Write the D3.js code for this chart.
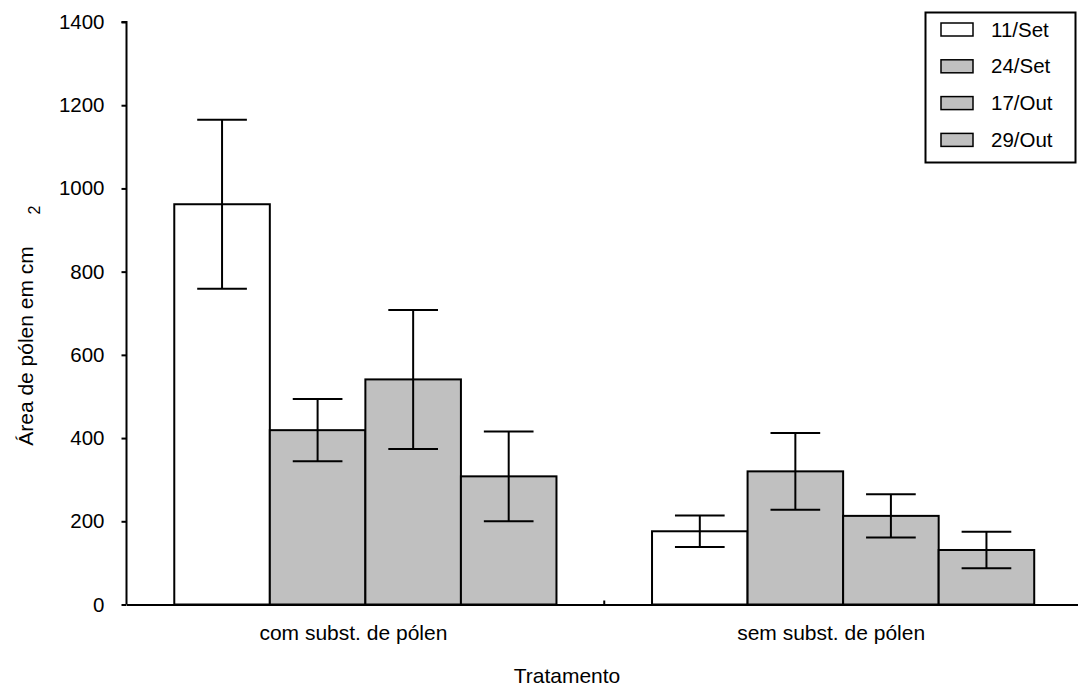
<!DOCTYPE html>
<html>
<head>
<meta charset="utf-8">
<script src="https://cdn.jsdelivr.net/npm/d3@7"></script>
<style>
  body { margin: 0; background: #fff; }
  text { font-family: "Liberation Sans", Arial, sans-serif; fill: #000; }
</style>
</head>
<body>
<svg width="1078" height="686"></svg>
<script>
// Área de pólen por tratamento e data

var categories = ["com subst. de pólen", "sem subst. de pólen"];
var series = ["11/Set", "24/Set", "17/Out", "29/Out"];
var meanCom = [962, 419, 541, 308];
var meanSem = [176, 320, 213, 131];
var seCom = [203, 75, 167, 108];
var seSem = [38, 92, 52, 44];
var yTicks = [0, 200, 400, 600, 800, 1000, 1200, 1400];
var fills = ["#ffffff", "#c0c0c0", "#c0c0c0", "#c0c0c0"];

var svg = d3.select("svg"),
    width = +svg.attr("width"),
    height = +svg.attr("height");

var mLeft = 126.5, mRight = 1082, mTop = 22, mBottom = 604.5;

var data = categories.map(function(c, i) {
  var m = i == 0 ? meanCom : meanSem,
      s = i == 0 ? seCom : seSem;
  return { cat: c, vals: series.map(function(k, j) { return { key: k, mean: m[j], se: s[j] }; }) };
});

var y = d3.scaleLinear().domain([0, 1400]).range([mBottom, mTop]);

var x0 = d3.scaleBand().domain(categories).range([mLeft, mRight]).padding(0);

var x1 = d3.scaleBand().domain(series)
    .range([x0.bandwidth() * 0.1, x0.bandwidth() * 0.9]).padding(0);

var color = d3.scaleOrdinal(series, fills);

// barras
var grp = svg.selectAll(".grp")
  .data(data)
  .enter().append("g")
    .attr("class", "grp")
    .attr("transform", function(d) { return "translate(" + x0(d.cat) + ",0)"; });

grp.selectAll("rect")
  .data(function(d) { return d.vals; })
  .enter().append("rect")
    .attr("x", function(d) { return x1(d.key); })
    .attr("y", function(d) { return y(d.mean); })
    .attr("width", x1.bandwidth())
    .attr("height", function(d) { return y(0) - y(d.mean); })
    .attr("fill", function(d) { return color(d.key); })
    .attr("stroke", "#000")
    .attr("stroke-width", 2);

// barras de erro
var err = grp.selectAll(".err")
  .data(function(d) { return d.vals; })
  .enter().append("g")
    .attr("class", "err")
    .attr("stroke", "#000")
    .attr("stroke-width", 2);

var cx = function(d) { return x1(d.key) + x1.bandwidth() / 2; };
var cap = x1.bandwidth() * 0.26;

err.append("line")
    .attr("x1", cx).attr("x2", cx)
    .attr("y1", function(d) { return y(d.mean + d.se); })
    .attr("y2", function(d) { return y(d.mean - d.se); });
err.append("line")
    .attr("x1", function(d) { return cx(d) - cap; })
    .attr("x2", function(d) { return cx(d) + cap; })
    .attr("y1", function(d) { return y(d.mean + d.se); })
    .attr("y2", function(d) { return y(d.mean + d.se); });
err.append("line")
    .attr("x1", function(d) { return cx(d) - cap; })
    .attr("x2", function(d) { return cx(d) + cap; })
    .attr("y1", function(d) { return y(d.mean - d.se); })
    .attr("y2", function(d) { return y(d.mean - d.se); });

// eixo y
var yAxis = svg.append("g")
    .attr("transform", "translate(" + mLeft + ",0)")
    .call(d3.axisLeft(y).tickValues(yTicks).tickSize(5).tickPadding(17).tickFormat(d3.format("d")));
yAxis.selectAll("path, line").attr("stroke", "#000").attr("stroke-width", 2);
yAxis.select(".domain").attr("d", "M-5," + mTop + "H0V" + mBottom);
yAxis.selectAll("text").attr("font-size", 20.5).attr("font-family", "Liberation Sans, Arial, sans-serif");

// eixo x
var xAxis = svg.append("g")
    .attr("transform", "translate(0," + mBottom + ")")
    .call(d3.axisBottom(x0).tickValues([]).tickSizeOuter(0));
xAxis.select(".domain").attr("stroke", "#000").attr("stroke-width", 2);
xAxis.append("line")
    .attr("x1", x0(categories[1])).attr("x2", x0(categories[1]))
    .attr("y1", -4).attr("y2", 0)
    .attr("stroke", "#000").attr("stroke-width", 2);

svg.selectAll(".catlab")
  .data(categories)
  .enter().append("text")
    .attr("class", "catlab")
    .attr("x", function(d) { return x0(d) + x0.bandwidth() / 2 - 12; })
    .attr("y", 640)
    .attr("text-anchor", "middle")
    .attr("font-size", 21)
    .text(function(d) { return d; });

svg.append("text")
    .attr("x", 567)
    .attr("y", 683)
    .attr("text-anchor", "middle")
    .attr("font-size", 21)
    .text("Tratamento");

svg.append("text")
    .attr("transform", "translate(33,346) rotate(-90)")
    .attr("text-anchor", "middle")
    .attr("font-size", 21)
    .text("Área de pólen em cm");
svg.append("text")
    .attr("transform", "translate(40,210) rotate(-90)")
    .attr("text-anchor", "middle")
    .attr("font-size", 16)
    .text("2");

// legenda
var lg = svg.append("g");
lg.append("rect")
    .attr("x", 925.5).attr("y", 12.5)
    .attr("width", 150).attr("height", 150)
    .attr("fill", "#fff").attr("stroke", "#000").attr("stroke-width", 2);

var item = lg.selectAll(".item")
  .data(series)
  .enter().append("g")
    .attr("class", "item")
    .attr("transform", function(d, i) { return "translate(0," + (36.5 + i * 36.8) + ")"; });

item.append("rect")
    .attr("x", 941).attr("y", -13.5)
    .attr("width", 32).attr("height", 13)
    .attr("fill", function(d) { return color(d); })
    .attr("stroke", "#000").attr("stroke-width", 1.5);

item.append("text")
    .attr("x", 991)
    .attr("y", 0)
    .attr("font-size", 20.5)
    .text(function(d) { return d; });
</script>
</body>
</html>
